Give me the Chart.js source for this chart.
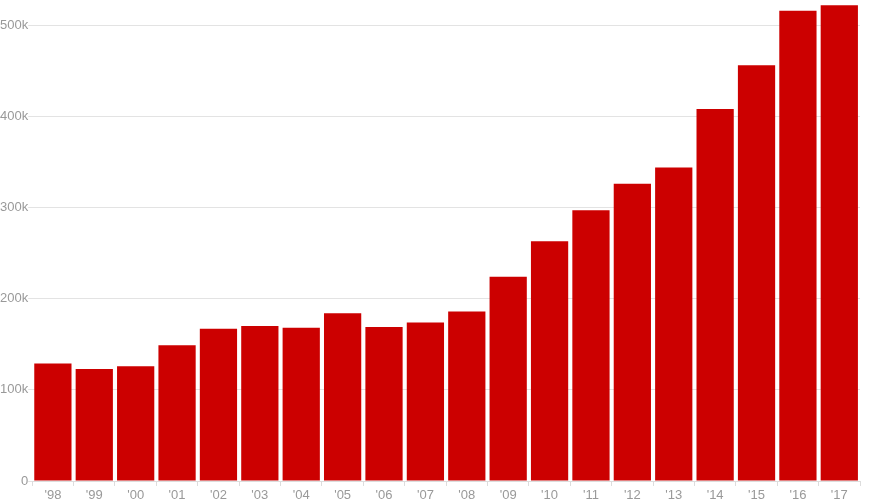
<!DOCTYPE html>
<html>
<head>
<meta charset="utf-8">
<script src="https://cdn.jsdelivr.net/npm/chart.js@4"></script>
<style>
  html, body { margin: 0; padding: 0; background: #fff; }
  #wrap { width: 890px; height: 501px; }
</style>
</head>
<body>
<div id="wrap"><canvas id="chart"></canvas></div>
<script>
const years = ["'98", "'99", "'00", "'01", "'02", "'03", "'04", "'05", "'06", "'07",
  "'08", "'09", "'10", "'11", "'12", "'13", "'14", "'15", "'16", "'17"];
const values = [129000, 123000, 126000, 149000, 167000, 170000, 168000, 184000, 169000, 174000,
  186000, 224000, 263000, 297000, 326000, 344000, 408000, 456000, 516000, 522000];
const yTicks = [0, 100000, 200000, 300000, 400000, 500000];

Chart.defaults.font.family = "'Liberation Sans', Arial, sans-serif";
Chart.defaults.font.size = 13;
Chart.defaults.color = "#999";

new Chart(document.getElementById("chart"), {
  type: "bar",
  data: {
    labels: years,
    datasets: [{
      data: values,
      backgroundColor: "#cc0000",
      borderWidth: 0,
      categoryPercentage: 1,
      barPercentage: 0.9,
    }],
  },
  options: {
    responsive: true,
    maintainAspectRatio: false,
    animation: false,
    layout: { padding: { top: 0, right: 30, bottom: 0, left: 0 } },
    plugins: { legend: { display: false }, tooltip: { enabled: false } },
    scales: {
      x: {
        grid: { drawOnChartArea: false, tickLength: 5, color: "#ddd" },
        border: { color: "#ddd" },
        ticks: { padding: 3, color: "#999", font: { size: 13, lineHeight: 1 } },
        // keep the plot bottom where the original has it
        afterFit: (axis) => { axis.height = 20; },
      },
      y: {
        min: 0,
        max: 527000,
        afterBuildTicks: (axis) => {
          axis.ticks = yTicks.map((v) => ({ value: v }));
        },
        grid: { color: "#e3e3e3", tickLength: 4 },
        border: { display: false },
        ticks: {
          padding: 0,
          color: "#999",
          font: { size: 13, lineHeight: 0.1 },
          callback: (v) => (v === 0 ? "0" : v / 1000 + "k"),
        },
      },
    },
  },
});
</script>
</body>
</html>
